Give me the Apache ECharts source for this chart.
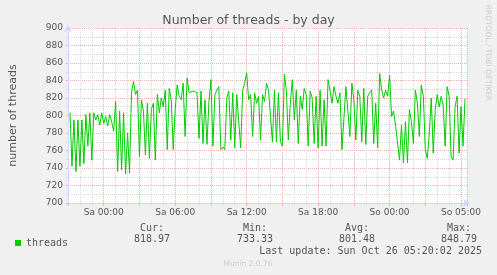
<!DOCTYPE html>
<html>
<head>
<meta charset="utf-8">
<script src="https://cdn.jsdelivr.net/npm/echarts@6/dist/echarts.min.js"></script>
<style>
html,body{margin:0;padding:0;background:#f0f0f0;}
#chart{width:497px;height:275px;}
</style>
</head>
<body>
<div id="chart"></div>
<script>
// hours relative to Sa 00:00 (local), one sample every 10 minutes
const startHour = -17 / 6;
const stepHours = 1 / 6;
const threads = [
  803, 742, 795, 736, 795, 742, 795, 745, 801, 765,
  803, 749, 803, 795, 801, 789, 803, 791, 799, 788,
  801, 793, 782, 816, 736, 805, 738, 803, 733.33, 780,
  734, 827, 839, 824, 829, 753, 818, 805, 755, 814,
  751, 807, 814, 749, 824, 803, 820, 810, 829, 761,
  831, 818, 761, 807, 835, 822, 818, 837, 776, 843,
  826, 824, 828, 829, 826, 774, 828, 768, 818, 767,
  816, 841, 765, 824, 829, 833, 761, 764, 761, 820,
  828, 772, 826, 763, 824, 822, 763, 829, 837, 848.79,
  818, 824, 776, 826, 814, 822, 772, 824, 816, 837,
  829, 831, 770, 829, 770, 826, 770, 765, 847, 829,
  772, 814, 841, 795, 829, 768, 822, 807, 831, 824,
  765, 828, 820, 768, 822, 763, 829, 765, 818, 765,
  841, 829, 814, 833, 822, 814, 826, 761, 761, 833,
  831, 776, 837, 818, 772, 829, 822, 770, 831, 767,
  822, 826, 829, 768, 814, 763, 848, 829, 820, 829,
  822, 846, 799, 805, 789, 791, 749, 789, 746, 793,
  746, 807, 793, 768, 829, 814, 776, 835, 822, 761,
  751, 780, 820, 757, 807, 824, 810, 822, 812, 765,
  833, 822, 753, 749, 810, 822, 757, 810, 765, 818.97
];
const tickHours = [0, 6, 12, 18, 24, 30];
const tickLabels = ['Sa 00:00', 'Sa 06:00', 'Sa 12:00', 'Sa 18:00', 'So 00:00', 'So 05:00'];
const legendHeaders = ['Cur:', 'Min:', 'Avg:', 'Max:'];
const legendValues = ['818.97', '733.33', '801.48', '848.79'];
const lastUpdate = 'Last update: Sun Oct 26 05:20:02 2025';

const RED = '#f4b0b0';
const GREY = '#d8d8d8';
const AXIS = '#cfd6f8';
const FONT = '#555555';

const seriesData = threads.map((v, i) => [startHour + i * stepHours, v]);

const colX = [152, 255, 357, 459];
const graphics = [];
legendHeaders.forEach((h, i) => {
  graphics.push({type: 'text', x: colX[i], y: 228, style: {text: h, fill: FONT, font: '10px "DejaVu Sans Mono"', textAlign: 'center', textVerticalAlign: 'middle'}});
  graphics.push({type: 'text', x: colX[i], y: 239, style: {text: legendValues[i], fill: FONT, font: '10px "DejaVu Sans Mono"', textAlign: 'center', textVerticalAlign: 'middle'}});
});
graphics.push({type: 'text', x: 482, y: 251, style: {text: lastUpdate, fill: FONT, font: '10px "DejaVu Sans Mono"', textAlign: 'right', textVerticalAlign: 'middle'}});
graphics.push({type: 'text', x: 248, y: 264, style: {text: 'Munin 2.0.76', fill: '#cccccc', font: '7.5px "DejaVu Sans"', textAlign: 'center', textVerticalAlign: 'middle'}});
graphics.push({type: 'text', x: 487.5, y: 53, rotation: -Math.PI / 2, style: {text: 'RRDTOOL / TOBI OETIKER', fill: '#cccccc', font: '7.5px "DejaVu Sans"', textAlign: 'center', textVerticalAlign: 'middle'}});

const chart = echarts.init(document.getElementById('chart'), null, {renderer: 'canvas'});
chart.setOption({
  animation: false,
  backgroundColor: '#f0f0f0',
  title: {
    text: 'Number of threads - by day',
    left: 'center',
    top: 9,
    textStyle: {color: FONT, fontFamily: 'DejaVu Sans', fontSize: 12.5, fontWeight: 'normal'}
  },
  legend: {
    left: 10,
    top: 233,
    icon: 'rect',
    itemWidth: 6,
    itemHeight: 6,
    textStyle: {color: FONT, fontFamily: 'DejaVu Sans Mono', fontSize: 10},
    data: ['threads']
  },
  grid: {
    left: 65, top: 28, width: 402, height: 175,
    show: true, backgroundColor: '#ffffff', borderWidth: 0, containLabel: false
  },
  xAxis: {
    type: 'value',
    min: -3, max: 30.5, interval: 3,
    axisLine: {show: true, onZero: false, lineStyle: {color: AXIS, width: 1}, symbol: ['none', 'arrow'], symbolSize: [6, 7], symbolOffset: [0, 3]},
    axisTick: {show: true, length: 3, lineStyle: {color: RED}},
    minorTick: {show: true, splitNumber: 3, length: 2, lineStyle: {color: GREY}},
    splitLine: {show: true, lineStyle: {color: RED, type: [1, 1], width: 1}},
    minorSplitLine: {show: true, lineStyle: {color: GREY, type: [1, 1], width: 1}},
    axisLabel: {
      color: FONT, fontFamily: 'DejaVu Sans', fontSize: 9, margin: 5,
      formatter: (v) => {
        const idx = tickHours.findIndex(h => Math.abs(h - v) < 1e-6);
        return idx >= 0 ? tickLabels[idx] : '';
      }
    }
  },
  yAxis: {
    type: 'value',
    min: 700, max: 900, interval: 20,
    name: 'number of threads',
    nameLocation: 'middle',
    nameGap: 49,
    nameTextStyle: {color: FONT, fontFamily: 'DejaVu Sans', fontSize: 11},
    axisLine: {show: true, onZero: false, lineStyle: {color: AXIS, width: 1}, symbol: ['none', 'arrow'], symbolSize: [6, 7], symbolOffset: [0, 3]},
    axisTick: {show: true, length: 2, lineStyle: {color: RED}},
    minorTick: {show: true, splitNumber: 2, length: 2, lineStyle: {color: GREY}},
    splitLine: {show: true, lineStyle: {color: RED, type: [1, 1], width: 1}},
    minorSplitLine: {show: true, lineStyle: {color: GREY, type: [1, 1], width: 1}},
    axisLabel: {color: FONT, fontFamily: 'DejaVu Sans', fontSize: 9, margin: 5}
  },
  series: [{
    name: 'threads',
    type: 'line',
    data: seriesData,
    showSymbol: false,
    symbol: 'none',
    color: '#00cc00',
    lineStyle: {color: '#00cc00', width: 1},
    z: 3
  }],
  graphic: graphics
});
</script>
</body>
</html>
